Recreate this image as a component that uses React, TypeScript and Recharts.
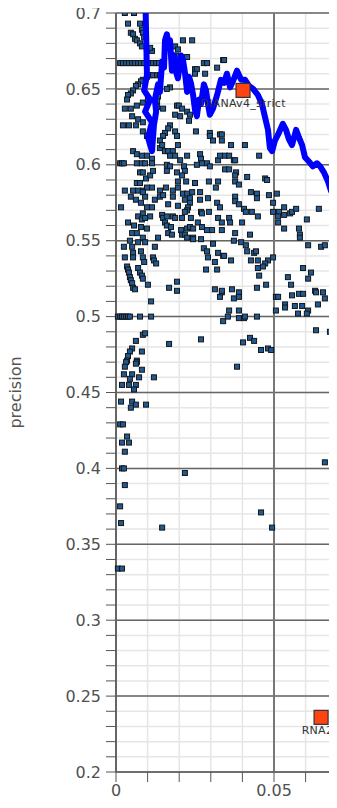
import React from 'react'
import {
  ScatterChart,
  Scatter,
  XAxis,
  YAxis,
  CartesianGrid,
  ReferenceLine,
} from 'recharts'

// recall / precision for every tool configuration (small dark squares)
const configs: [number, number][] = [
  [0.0028,0.700],[0.0057,0.700],[0.0038,0.693],[0.0076,0.693],[0.0082,0.689],[0.0047,0.687],[0.0054,0.686],
  [0.0060,0.683],[0.0066,0.682],[0.0076,0.680],[0.0082,0.678],[0.0114,0.675],[0.0108,0.677],[0.0085,0.687],
  [0.0089,0.684],[0.0187,0.678],[0.0196,0.676],[0.0212,0.682],[0.0241,0.682],
  [0.0013,0.667],[0.0022,0.667],[0.0032,0.667],[0.0041,0.667],[0.0051,0.667],[0.0060,0.667],[0.0070,0.667],
  [0.0079,0.667],[0.0089,0.667],[0.0098,0.667],[0.0108,0.667],[0.0117,0.667],[0.0127,0.667],[0.0136,0.667],
  [0.0190,0.672],[0.0199,0.668],[0.0209,0.670],[0.0225,0.671],[0.0250,0.663],[0.0256,0.663],[0.0278,0.667],
  [0.0288,0.667],[0.0250,0.660],[0.0282,0.660],[0.0320,0.664],[0.0339,0.669],
  [0.0098,0.658],[0.0108,0.659],[0.0117,0.659],[0.0130,0.659],[0.0139,0.659],[0.0085,0.656],[0.0079,0.655],
  [0.0070,0.653],[0.0063,0.652],[0.0054,0.649],[0.0047,0.647],[0.0038,0.646],[0.0035,0.643],
  [0.0171,0.651],[0.0161,0.650],[0.0028,0.637],[0.0047,0.637],[0.0066,0.639],[0.0085,0.641],[0.0101,0.643],
  [0.0133,0.645],[0.0130,0.642],[0.0130,0.638],[0.0149,0.637],[0.0193,0.639],[0.0199,0.639],[0.0209,0.637],
  [0.0225,0.635],[0.0234,0.633],[0.0187,0.633],[0.0203,0.632],[0.0231,0.629],[0.0051,0.632],[0.0070,0.630],
  [0.0085,0.628],[0.0022,0.626],[0.0041,0.626],[0.0063,0.626],[0.0085,0.622],[0.0098,0.619],[0.0114,0.616],
  [0.0171,0.626],[0.0165,0.624],[0.0155,0.621],[0.0149,0.619],[0.0139,0.616],[0.0187,0.622],[0.0193,0.619],
  [0.0196,0.613],[0.0253,0.622],[0.0297,0.621],[0.0297,0.619],[0.0307,0.616],[0.0329,0.620],
  [0.0054,0.609],[0.0066,0.607],[0.0082,0.606],[0.0098,0.606],[0.0114,0.604],[0.0139,0.611],[0.0146,0.613],
  [0.0155,0.609],[0.0165,0.609],[0.0180,0.609],[0.0171,0.606],[0.0187,0.606],[0.0225,0.606],[0.0203,0.603],
  [0.0266,0.607],[0.0269,0.604],[0.0272,0.601],[0.0288,0.601],[0.0256,0.600],[0.0323,0.603],[0.0329,0.606],
  [0.0013,0.601],[0.0019,0.601],[0.0025,0.601],[0.0066,0.601],[0.0082,0.601],[0.0092,0.601],[0.0114,0.601],
  [0.0161,0.600],[0.0171,0.599],[0.0161,0.596],[0.0215,0.599],[0.0218,0.596],[0.0297,0.599],[0.0294,0.589],
  [0.0323,0.589],[0.0076,0.595],[0.0085,0.595],[0.0095,0.591],[0.0108,0.593],[0.0117,0.596],[0.0066,0.588],
  [0.0076,0.588],[0.0193,0.595],[0.0209,0.593],[0.0196,0.589],[0.0222,0.589],[0.0250,0.588],
  [0.0342,0.669],[0.0335,0.620],[0.0335,0.616],[0.0364,0.613],[0.0408,0.613],[0.0453,0.606],[0.0345,0.606],
  [0.0358,0.606],[0.0373,0.603],[0.0377,0.603],[0.0345,0.597],[0.0358,0.597],[0.0380,0.595],[0.0377,0.593],
  [0.0377,0.589],[0.0389,0.587],[0.0415,0.592],[0.0472,0.591],[0.0478,0.590],
  [0.0028,0.583],[0.0054,0.583],[0.0070,0.583],[0.0085,0.583],[0.0098,0.585],[0.0114,0.585],[0.0139,0.583],
  [0.0158,0.585],[0.0180,0.583],[0.0196,0.585],[0.0212,0.581],[0.0225,0.581],[0.0241,0.582],[0.0266,0.582],
  [0.0316,0.585],[0.0047,0.579],[0.0063,0.577],[0.0079,0.575],[0.0092,0.579],[0.0085,0.582],[0.0123,0.577],
  [0.0139,0.579],[0.0149,0.580],[0.0180,0.579],[0.0218,0.577],[0.0234,0.578],[0.0266,0.577],[0.0291,0.578],
  [0.0016,0.572],[0.0098,0.572],[0.0114,0.572],[0.0165,0.574],[0.0196,0.573],[0.0234,0.575],[0.0228,0.572],
  [0.0225,0.570],[0.0218,0.569],[0.0269,0.569],[0.0294,0.569],[0.0320,0.575],[0.0329,0.572],
  [0.0085,0.568],[0.0070,0.566],[0.0082,0.564],[0.0092,0.565],[0.0108,0.566],[0.0146,0.567],[0.0149,0.565],
  [0.0161,0.566],[0.0180,0.566],[0.0187,0.565],[0.0209,0.565],[0.0237,0.565],[0.0272,0.568],[0.0323,0.565],
  [0.0038,0.562],[0.0057,0.560],[0.0079,0.559],[0.0098,0.558],[0.0155,0.562],[0.0161,0.560],[0.0174,0.559],
  [0.0206,0.557],[0.0225,0.558],[0.0234,0.559],[0.0244,0.558],[0.0259,0.562],[0.0272,0.559],[0.0288,0.557],
  [0.0304,0.557],[0.0335,0.557],[0.0051,0.555],[0.0066,0.555],[0.0085,0.552],[0.0133,0.552],[0.0165,0.555],
  [0.0177,0.554],[0.0209,0.554],[0.0218,0.554],[0.0225,0.552],[0.0244,0.552],[0.0044,0.550],[0.0070,0.549],
  [0.0092,0.549],[0.0244,0.551],[0.0269,0.551],[0.0307,0.548],[0.0025,0.546],[0.0051,0.546],[0.0123,0.546],
  [0.0278,0.545],[0.0288,0.543],[0.0323,0.542],[0.0339,0.540],[0.0028,0.539],[0.0054,0.542],[0.0054,0.539],
  [0.0079,0.543],[0.0085,0.539],[0.0117,0.539],[0.0120,0.537],[0.0089,0.536],[0.0127,0.535],[0.0291,0.539],
  [0.0313,0.536],[0.0320,0.531],[0.0285,0.531],[0.0035,0.533],[0.0038,0.531],[0.0041,0.529],[0.0044,0.526],
  [0.0047,0.524],[0.0051,0.522],[0.0054,0.519],[0.0060,0.518],[0.0070,0.532],[0.0076,0.529],[0.0082,0.527],
  [0.0085,0.525],[0.0101,0.521],[0.0168,0.519],[0.0193,0.523],[0.0193,0.517],[0.0313,0.518],[0.0329,0.513],
  [0.0335,0.516],[0.0111,0.510],
  [0.0006,0.500],[0.0013,0.500],[0.0019,0.500],[0.0025,0.500],[0.0032,0.500],[0.0038,0.500],[0.0044,0.500],
  [0.0076,0.500],[0.0111,0.500],[0.0339,0.497],[0.0085,0.488],[0.0092,0.489],[0.0063,0.484],[0.0051,0.479],
  [0.0044,0.477],[0.0038,0.474],[0.0035,0.471],[0.0066,0.471],[0.0082,0.477],[0.0168,0.482],[0.0269,0.485],
  [0.0427,0.582],[0.0446,0.581],[0.0446,0.578],[0.0484,0.580],[0.0509,0.581],[0.0377,0.579],[0.0377,0.576],
  [0.0389,0.574],[0.0405,0.571],[0.0411,0.569],[0.0430,0.569],[0.0449,0.566],[0.0497,0.575],[0.0497,0.569],
  [0.0516,0.569],[0.0513,0.566],[0.0532,0.572],[0.0532,0.567],[0.0551,0.568],[0.0557,0.569],[0.0570,0.571],
  [0.0604,0.564],[0.0642,0.571],[0.0358,0.565],[0.0335,0.562],[0.0361,0.562],[0.0399,0.562],[0.0513,0.562],
  [0.0532,0.558],[0.0579,0.558],[0.0582,0.554],[0.0582,0.552],[0.0377,0.555],[0.0424,0.554],[0.0373,0.550],
  [0.0396,0.549],[0.0411,0.547],[0.0415,0.543],[0.0437,0.542],[0.0443,0.543],[0.0608,0.547],[0.0649,0.546],
  [0.0661,0.547],[0.0342,0.540],[0.0364,0.537],[0.0427,0.537],[0.0449,0.537],[0.0481,0.537],[0.0497,0.539],
  [0.0472,0.535],[0.0465,0.533],[0.0449,0.532],[0.0592,0.532],[0.0693,0.537],[0.0693,0.532],[0.0617,0.529],
  [0.0608,0.525],[0.0544,0.526],[0.0453,0.527],[0.0475,0.521],[0.0554,0.521],[0.0446,0.519],[0.0367,0.518],
  [0.0389,0.516],[0.0389,0.513],[0.0335,0.517],[0.0373,0.512],[0.0506,0.513],[0.0513,0.513],[0.0557,0.514],
  [0.0579,0.515],[0.0592,0.515],[0.0630,0.517],[0.0633,0.516],[0.0655,0.516],[0.0661,0.512],[0.0699,0.519],
  [0.0535,0.508],[0.0535,0.506],[0.0566,0.507],[0.0589,0.507],[0.0639,0.508],[0.0608,0.504],[0.0604,0.502],
  [0.0576,0.502],[0.0506,0.504],[0.0358,0.504],[0.0354,0.500],[0.0389,0.504],[0.0389,0.499],[0.0405,0.499],
  [0.0408,0.500],[0.0446,0.500],[0.0633,0.491],[0.0677,0.490],[0.0687,0.489],[0.0424,0.486],[0.0437,0.484],
  [0.0402,0.483],[0.0481,0.479],[0.0491,0.478],[0.0459,0.478],
  [0.0032,0.470],[0.0066,0.470],[0.0063,0.469],[0.0028,0.467],[0.0082,0.465],[0.0025,0.462],[0.0051,0.462],
  [0.0044,0.459],[0.0073,0.460],[0.0120,0.460],[0.0019,0.455],[0.0041,0.455],[0.0063,0.455],[0.0057,0.452],
  [0.0016,0.444],[0.0051,0.444],[0.0063,0.442],[0.0047,0.440],[0.0095,0.442],[0.0013,0.429],[0.0022,0.429],
  [0.0035,0.421],[0.0019,0.417],[0.0041,0.417],[0.0028,0.411],[0.0019,0.400],[0.0025,0.400],[0.0218,0.397],
  [0.0028,0.389],[0.0013,0.375],[0.0016,0.364],[0.0146,0.361],[0.0006,0.334],[0.0019,0.334],
  [0.0383,0.467],[0.0661,0.404],[0.0459,0.371],[0.0494,0.361],
]

// the blue threshold sweep curve
const curveRecall = [
  0.0092,0.0095,0.0098,0.0089,0.0108,0.0092,0.0114,0.0101,0.0114,0.0120,0.0127,0.0123,0.0133,0.0139,
  0.0146,0.0152,0.0155,0.0161,0.0168,0.0171,0.0177,0.0184,0.0190,0.0196,0.0206,0.0212,0.0218,0.0225,
  0.0231,0.0237,0.0244,0.0250,0.0256,0.0263,0.0269,0.0278,0.0285,0.0291,0.0297,0.0307,0.0320,0.0332,
  0.0342,0.0351,0.0361,0.0370,0.0383,0.0396,0.0408,0.0421,0.0434,0.0449,0.0462,0.0472,0.0481,0.0487,
  0.0494,0.0503,0.0513,0.0528,0.0538,0.0547,0.0557,0.0570,0.0579,0.0589,0.0598,0.0611,0.0623,0.0636,
  0.0646,0.0658,0.0671,0.0680,0.0690,0.0703,0.0741,0.0788,
]
const curvePrecision = [
  0.720,0.689,0.659,0.649,0.643,0.635,0.628,0.618,0.609,0.626,0.635,0.643,0.653,0.648,
  0.668,0.664,0.682,0.686,0.677,0.682,0.662,0.672,0.661,0.657,0.672,0.669,0.661,0.648,
  0.658,0.654,0.646,0.636,0.632,0.643,0.640,0.653,0.649,0.640,0.633,0.637,0.646,0.656,
  0.654,0.660,0.651,0.655,0.662,0.656,0.656,0.652,0.650,0.646,0.640,0.631,0.623,0.611,
  0.609,0.616,0.620,0.627,0.623,0.617,0.613,0.623,0.618,0.613,0.605,0.602,0.599,0.601,
  0.599,0.595,0.589,0.583,0.579,0.576,0.572,0.568,
]

// named published tools
const toolNames = ['DIANAv4_strict', 'RNA22', 'TargetScan']
const toolRecall = [0.0402, 0.0649, 0.0788]
const toolPrecision = [0.649, 0.236, 0.486]

const xTicks = [0, 0.01, 0.02, 0.03, 0.04, 0.05, 0.06, 0.07, 0.08, 0.09, 0.1]
const yTicks = [
  0.2, 0.21, 0.22, 0.23, 0.24, 0.25, 0.26, 0.27, 0.28, 0.29, 0.3, 0.31, 0.32, 0.33, 0.34, 0.35, 0.36,
  0.37, 0.38, 0.39, 0.4, 0.41, 0.42, 0.43, 0.44, 0.45, 0.46, 0.47, 0.48, 0.49, 0.5, 0.51, 0.52, 0.53,
  0.54, 0.55, 0.56, 0.57, 0.58, 0.59, 0.6, 0.61, 0.62, 0.63, 0.64, 0.65, 0.66, 0.67, 0.68, 0.69, 0.7,
]
const majorY = [0.2, 0.25, 0.3, 0.35, 0.4, 0.45, 0.5, 0.55, 0.6, 0.65, 0.7]
const majorX = [0.05]

const configData = configs.map(([x, y]) => ({ x, y }))
const curveData = curveRecall.map((x, i) => ({ x, y: curvePrecision[i] }))
const toolData = toolNames.map((name, i) => ({ name, x: toolRecall[i], y: toolPrecision[i] }))

const FONT = '"DejaVu Sans", sans-serif'

// only every 0.05 gets a label
function fmt(v: number) {
  const k = v * 20
  return Math.abs(k - Math.round(k)) < 1e-6 ? String(+v.toFixed(2)) : ''
}

function SmallSquare(props: any) {
  const { cx, cy } = props
  return <rect x={cx - 2.5} y={cy - 2.5} width={5} height={5} fill="#1f5a94" stroke="#151515" strokeWidth={1} />
}

function ToolMark(props: any) {
  const { cx, cy, payload } = props
  return (
    <g>
      <rect x={cx - 7} y={cy - 7} width={14} height={14} fill="#ff4411" stroke="#333" strokeWidth={1.2} />
      <text
        x={cx}
        y={cy + 17}
        textAnchor="middle"
        fontSize={11}
        fontFamily={FONT}
        fill="#333"
        letterSpacing={0.3}
      >
        {payload.name}
      </text>
    </g>
  )
}

export default function App() {
  return (
    <div style={{ margin: -8, width: 337, height: 808, overflow: 'hidden', background: '#fff' }}>
      <ScatterChart width={436} height={808} margin={{ top: 13, right: 4, bottom: 0, left: 0 }}>
        <CartesianGrid stroke="#e6e6e6" strokeWidth={1.5} />
        {majorY.map((v) => (
          <ReferenceLine key={v} y={v} stroke="#666" strokeWidth={1.5} />
        ))}
        {majorX.map((v) => (
          <ReferenceLine key={v} x={v} stroke="#777" strokeWidth={2} />
        ))}
        <XAxis
          type="number"
          dataKey="x"
          domain={[0, 0.1]}
          ticks={xTicks}
          tickFormatter={fmt}
          interval={0}
          height={36}
          tickSize={10}
          tickMargin={3}
          axisLine={{ stroke: '#666', strokeWidth: 1.5 }}
          tickLine={{ stroke: '#555' }}
          tick={{ fontSize: 16, fill: '#505050', fontFamily: FONT }}
        />
        <YAxis
          type="number"
          dataKey="y"
          domain={[0.2, 0.7]}
          allowDataOverflow
          ticks={yTicks}
          tickFormatter={fmt}
          interval={0}
          width={116}
          tickSize={10}
          tickMargin={5}
          axisLine={{ stroke: '#666', strokeWidth: 2 }}
          tickLine={{ stroke: '#555' }}
          tick={{ fontSize: 16, fill: '#505050', fontFamily: FONT }}
          label={{
            value: 'precision',
            angle: -90,
            position: 'insideLeft',
            offset: 15,
            style: { textAnchor: 'middle', fontSize: 16, fill: '#555', fontFamily: FONT },
          }}
        />
        <Scatter data={configData} shape={SmallSquare} isAnimationActive={false} />
        <Scatter
          data={curveData}
          line={{ stroke: '#0000ff', strokeWidth: 6, strokeLinejoin: 'round' }}
          lineJointType="linear"
          shape={() => <g />}
          isAnimationActive={false}
        />
        <Scatter data={toolData} shape={ToolMark} isAnimationActive={false} />
      </ScatterChart>
    </div>
  )
}
